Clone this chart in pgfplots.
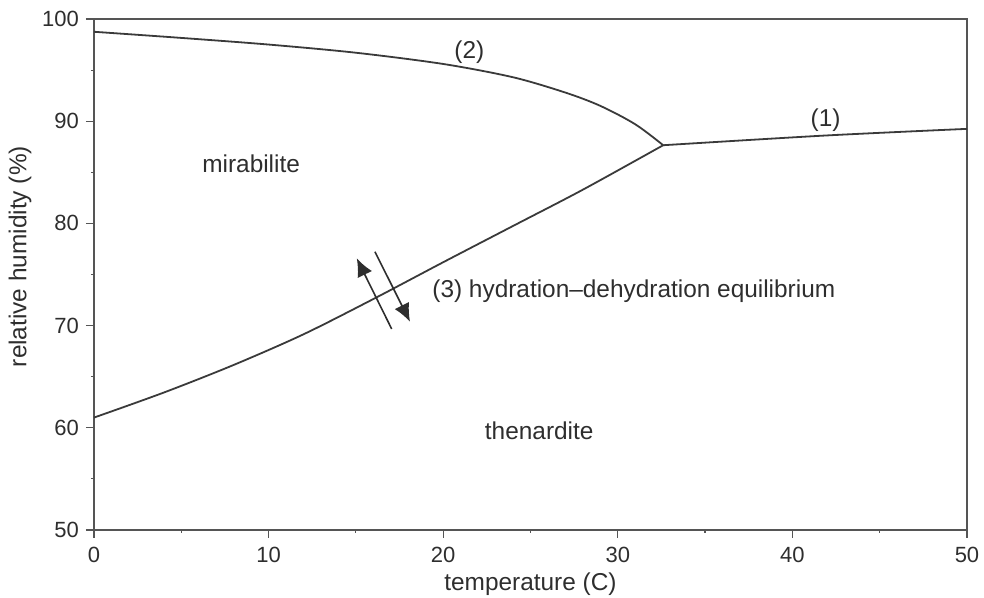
\documentclass[border=0pt]{standalone}
\usepackage{pgfplots}
\pgfplotsset{compat=1.18}
\usetikzlibrary{arrows.meta}
\usepackage{fontspec}
\setmainfont{Liberation Sans}

\definecolor{ink}{HTML}{3A3A3A}
\definecolor{frame}{HTML}{555555}
\definecolor{txt}{HTML}{2E2E2E}

\begin{document}
\begin{tikzpicture}
\begin{axis}[
  at={(0,0)}, anchor=south west,
  width=436.5pt, height=255.5pt, scale only axis,
  xmin=0, xmax=50, ymin=50, ymax=100,
  xtick={0,10,...,50}, ytick={50,60,...,100},
  minor xtick={5,15,...,45}, minor ytick={55,65,...,95},
  tick align=outside, xtick pos=bottom, ytick pos=left,
  major tick length=4pt, minor tick length=1.5pt,
  axis line style={frame, line width=0.7pt},
  every tick/.style={frame, line width=0.6pt},
  tick label style={font=\fontsize{11}{13}\selectfont, text=txt},
  /pgf/number format/assume math mode=true,
  xticklabel style={yshift=-1pt},
  xlabel={temperature (C)},
  ylabel={relative humidity (\%)},
  every axis x label/.style={at={(axis description cs:0.5,0)}, anchor=center,
    yshift=-27pt, font=\fontsize{12.2}{14}\selectfont, text=txt},
  every axis y label/.style={at={(axis description cs:0,0.535)}, anchor=center,
    rotate=90, yshift=37pt, font=\fontsize{12.2}{14}\selectfont, text=txt},
  clip=false,
]
% (2) mirabilite solubility
\addplot[ink, line width=0.9pt, smooth] coordinates {
  (0,98.75) (5,98.15) (10,97.5) (15,96.7) (20,95.6) (24,94.3)
  (27,92.8) (29,91.5) (31,89.7) (32.6,87.65)
};
% (3) hydration-dehydration equilibrium
\addplot[ink, line width=0.9pt, smooth] coordinates {
  (0,61.0) (4,63.45) (8,66.15) (12,69.15) (16,72.6) (20,76.2)
  (24,79.75) (28,83.3) (32.6,87.65)
};
% (1) thenardite solubility
\addplot[ink, line width=0.9pt, smooth] coordinates {
  (32.6,87.65) (41.9,88.6) (50,89.25)
};

\begin{scope}[font=\fontsize{12.2}{14}\selectfont, text=txt]
\node at (axis cs:21.5,96.8) {(2)};
\node at (axis cs:41.9,90.1) {(1)};
\node at (axis cs:9.0,85.8) {mirabilite};
\node[anchor=west, inner sep=0pt] at (axis cs:19.36,73.4) {(3) hydration--dehydration equilibrium};
\node at (axis cs:25.5,59.7) {thenardite};
\end{scope}

\draw[txt, line width=0.8pt, -{Latex[length=9pt,width=8pt]}]
  (axis cs:17.05,69.67) -- (axis cs:15.05,76.58);
\draw[txt, line width=0.8pt, -{Latex[length=9pt,width=8pt]}]
  (axis cs:16.09,77.23) -- (axis cs:18.1,70.38);
\end{axis}
\pgfresetboundingbox
\path (-47pt,-34pt) rectangle (445pt,265pt);
\end{tikzpicture}
\end{document}
